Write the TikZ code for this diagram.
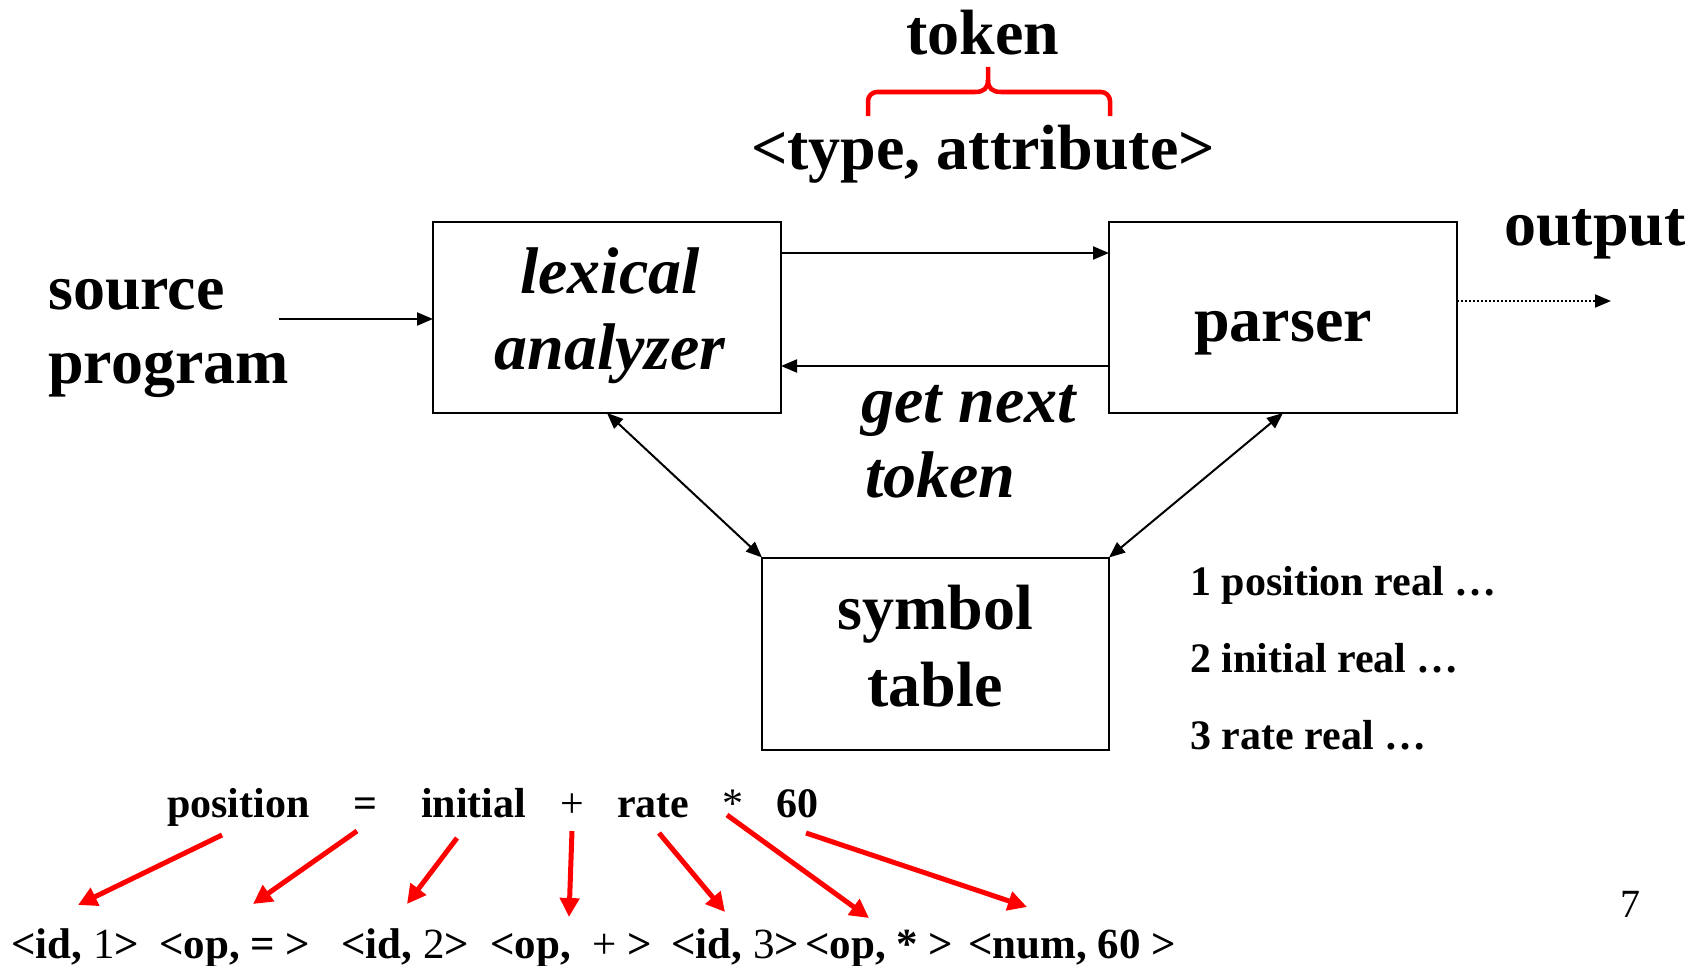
\documentclass[tikz,border=0pt]{standalone}
\usepackage{fontspec}
\setmainfont{Liberation Serif}
\usetikzlibrary{arrows.meta}
\begin{document}
\begin{tikzpicture}[x=1pt,y=-1pt,
  boxnode/.style={draw, line width=2pt, inner sep=0pt, outer sep=0pt},
  big/.style={font=\fontsize{64}{76}\selectfont\bfseries, inner sep=0pt},
  bigit/.style={font=\fontsize{66}{76}\selectfont\bfseries\itshape, inner sep=0pt},
  med/.style={font=\fontsize{42}{50}\selectfont\bfseries, inner sep=0pt},
  tok/.style={font=\fontsize{43}{50}\selectfont\bfseries, inner sep=0pt, anchor=base west},
  arr/.style={line width=2pt, -{Triangle[length=16pt,width=13pt]}},
  darr/.style={line width=2pt, {Triangle[length=16pt,width=13pt]}-{Triangle[length=16pt,width=13pt]}},
  redarr/.style={draw=red, line width=5pt, -{Triangle[length=19pt,width=19pt]}, red},
  bracestyle/.style={draw=red, line width=4.5pt}
]
\useasboundingbox (0,0) rectangle (1698,966);

% boxes
\node[boxnode, minimum width=348pt, minimum height=191pt] (lex) at (607,317.5) {};
\node[boxnode, minimum width=348pt, minimum height=191pt] (par) at (1283,317.5) {};
\node[boxnode, minimum width=347pt, minimum height=192pt] (sym) at (935.5,653.5) {};

% box texts
\node[bigit, anchor=base] (lexA) at (610,293) {lexical};
\node[bigit, anchor=base] (lexB) at (610,369) {analyzer};
\node[big, anchor=base] (parT) at (1283,341) {parser};
\node[big, anchor=base] (symA) at (935,629) {symbol};
\node[big, anchor=base] (symB) at (935,706) {table};

% other texts
\node[big, anchor=base west] (srcA) at (48,309) {source};
\node[big, anchor=base west] (srcB) at (48,383) {program};
\node[big, anchor=base west] (outT) at (1504,245) {output};
\node[bigit, anchor=base west] (gnA) at (861,422) {get next};
\node[bigit, anchor=base west] (gnB) at (865,497) {token};
\node[big, anchor=base] (tokT) at (983,55) {token};
\node[big, anchor=base] (typeT) at (983,169) {<type, attribute>};

\node[med, anchor=base west] (l1) at (1190,595) {1 position real …};
\node[med, anchor=base west] (l2) at (1190,672) {2 initial real …};
\node[med, anchor=base west] (l3) at (1190,749) {3 rate real …};

\node[font=\fontsize{40}{48}\selectfont, inner sep=0pt, anchor=base] (pg) at (1630,917) {7};

% top formula row
\node[med, anchor=base west] (w1) at (167,817) {position};
\node[med, anchor=base] (w2) at (365,817) {=};
\node[med, anchor=base west] (w3) at (421,817) {initial};
\node[med, anchor=base, font=\fontsize{42}{50}\selectfont\mdseries] (w4) at (572,817) {+};
\node[med, anchor=base west] (w5) at (617,817) {rate};
\node[med, anchor=base, font=\fontsize{42}{50}\selectfont\mdseries] (w6) at (733,817) {*};
\node[med, anchor=base west] (w7) at (776,817) {60};

% bottom token row
\node[tok] (t1) at (11,958) {<id, {\mdseries 1}>};
\node[tok] (t2) at (159,958) {<op, = >};
\node[tok] (t3) at (341,958) {<id, {\mdseries 2}>};
\node[tok] (t4) at (490,958) {<op,\ \ {\mdseries +} >};
\node[tok] (t5) at (671,958) {<id, {\mdseries 3}>};
\node[tok] (t6) at (805,958) {<op, * >};
\node[tok] (t7) at (968,958) {<num, 60 >};

% black connectors
\coordinate (srcS) at (279,319);
\coordinate (outE) at (1611,301);
\draw[arr] (srcS) -- (lex.west |- srcS);
\draw[arr] ([yshift=64.5pt]lex.east) -- ([yshift=64.5pt]par.west);
\draw[arr] ([yshift=-48.5pt]par.west) -- ([yshift=-48.5pt]lex.east);
\draw[arr, dotted] (par.east |- outE) -- (outE);
\draw[darr] (lex.south) -- (sym.north west);
\draw[darr] (par.south) -- (sym.north east);

% red arrows
\coordinate (r1s) at (222,835); \coordinate (r1e) at (78,905);
\coordinate (r2s) at (357,831); \coordinate (r2e) at (253,904);
\coordinate (r3s) at (457,838); \coordinate (r3e) at (407,904);
\coordinate (r4s) at (572,831); \coordinate (r4e) at (569,917);
\coordinate (r5s) at (659,833); \coordinate (r5e) at (725,912);
\coordinate (r6s) at (727,815); \coordinate (r6e) at (869,918);
\coordinate (r7s) at (806,833); \coordinate (r7e) at (1027,907);
\draw[redarr] (r1s) -- (r1e);
\draw[redarr] (r2s) -- (r2e);
\draw[redarr] (r3s) -- (r3e);
\draw[redarr] (r4s) -- (r4e);
\draw[redarr] (r5s) -- (r5e);
\draw[redarr] (r6s) -- (r6e);
\draw[redarr] (r7s) -- (r7e);

% red brace
\draw[bracestyle, rounded corners=9pt] (868,116) -- (868,92) -- (975,92);
\draw[bracestyle] (975,92) .. controls (984,92) and (988,88) .. (988,80) -- (988,67);
\draw[bracestyle, rounded corners=9pt] (1110,116) -- (1110,92) -- (1001,92);
\draw[bracestyle] (1001,92) .. controls (992,92) and (988,88) .. (988,80);
\end{tikzpicture}
\end{document}
